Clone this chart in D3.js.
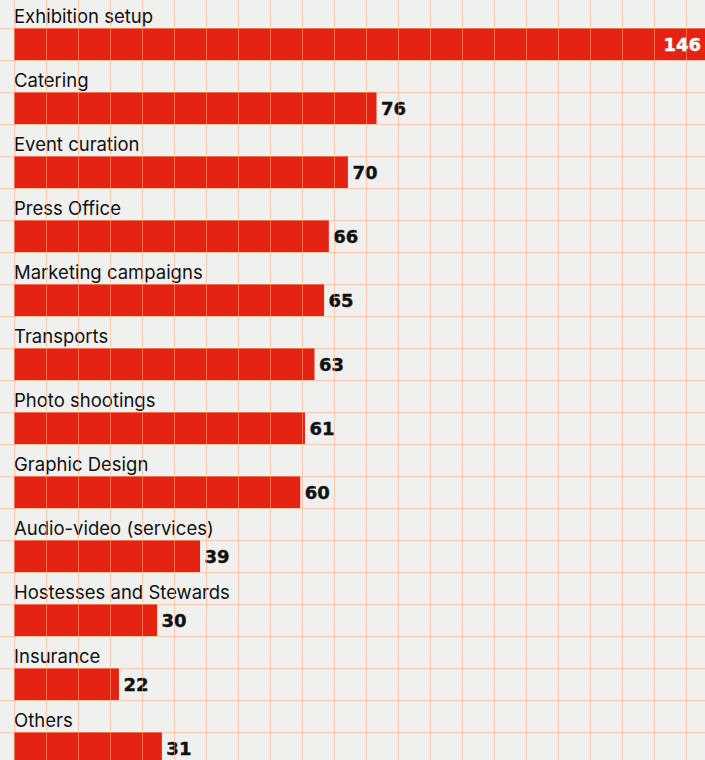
<!DOCTYPE html>
<html>
<head>
<meta charset="utf-8">
<script src="https://cdn.jsdelivr.net/npm/d3@7"></script>
<style>
  html, body { margin: 0; padding: 0; background: #f0f0ee; overflow: hidden; }
  svg { display: block; }
  .cat { font-family: Inter, "Noto Sans", sans-serif; font-size: 18.5px; fill: #111; }
  .val { font-family: "DejaVu Sans", sans-serif; font-weight: bold; font-size: 18px; stroke-width: 0.4px; }
</style>
</head>
<body>
<svg id="chart" width="705" height="760"></svg>
<script>
// Services requested, by category
const categories = [
  "Exhibition setup", "Catering", "Event curation", "Press Office",
  "Marketing campaigns", "Transports", "Photo shootings", "Graphic Design",
  "Audio-video (services)", "Hostesses and Stewards", "Insurance", "Others"
];
const values = [146, 76, 70, 66, 65, 63, 61, 60, 39, 30, 22, 31];

const W = 705, H = 760;
const left = 14;
const rowH = 64, barH = 32, barTop = 28;
const cell = 32;

const svg = d3.select("#chart");
svg.append("rect").attr("width", W).attr("height", H).attr("fill", "#f0f0ee");

const x = d3.scaleLinear().domain([0, 146]).range([left, left + 146 * 4.77]);
const y = d3.scaleBand().domain(categories).range([0, rowH * categories.length]).paddingInner(0).paddingOuter(0);

const rows = svg.append("g").selectAll("g")
  .data(categories.map((c, i) => ({ c, v: values[i] })))
  .join("g")
  .attr("transform", d => `translate(0,${y(d.c)})`);

rows.append("rect")
  .attr("x", x(0))
  .attr("y", barTop)
  .attr("width", d => x(d.v) - x(0))
  .attr("height", barH)
  .attr("fill", "#e42313");

rows.append("text")
  .attr("class", "cat")
  .attr("x", left)
  .attr("y", barTop - 5.5)
  .text(d => d.c);

// Grid drawn over bars, translucent so it tints the red
const grid = svg.append("g").attr("stroke", "rgb(255,170,128)").attr("stroke-opacity", 0.55).attr("stroke-width", 1);
grid.selectAll("line.v").data(d3.range(left, W + 1, cell)).join("line")
  .attr("class", "v").attr("x1", d => d + 0.5).attr("x2", d => d + 0.5).attr("y1", 0).attr("y2", H);
grid.selectAll("line.h").data(d3.range(barTop - cell, H + 1, cell)).join("line")
  .attr("class", "h").attr("y1", d => d + 0.5).attr("y2", d => d + 0.5).attr("x1", 0).attr("x2", W);

// Value labels: outside the bar, or inside in white when there is no room
rows.append("text")
  .attr("class", "val")
  .attr("y", barTop + barH / 2 + 6.8)
  .each(function (d) {
    const t = d3.select(this).text(d.v);
    const end = x(d.v);
    if (end + 45 > W) {
      t.attr("x", W - 4).attr("text-anchor", "end").attr("fill", "#fff").attr("stroke", "#fff");
    } else {
      t.attr("x", end + 4.5).attr("text-anchor", "start").attr("fill", "#111").attr("stroke", "#111");
    }
  });
</script>
</body>
</html>
